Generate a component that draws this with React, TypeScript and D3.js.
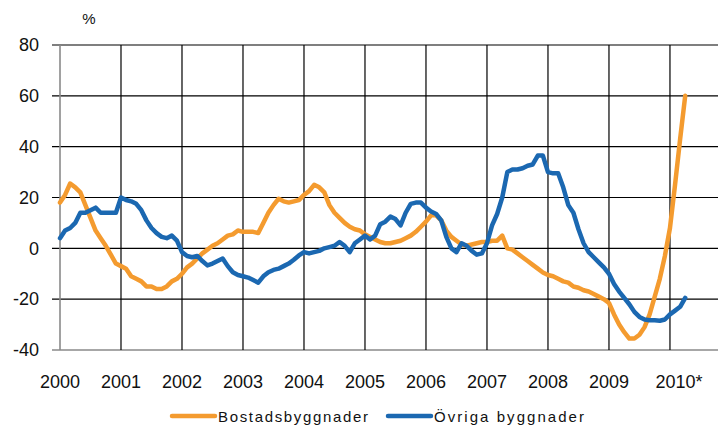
import * as d3 from 'd3';

const years = ['2000', '2001', '2002', '2003', '2004', '2005', '2006', '2007', '2008', '2009', '2010*'];
const yTicks = [-40, -20, 0, 20, 40, 60, 80];

// monthly values, Jan 2000 - Apr 2010
const bostad = [
    18, 21, 25.5, 24, 22, 17, 12, 7, 4, 1, -2.5, -6,
    -7, -8, -11, -12, -13, -15, -15, -16, -16, -15, -13, -12,
    -10, -7.5, -6, -4, -2, -0.5, 1, 2, 3.5, 5, 5.5, 7,
    6.5, 6.5, 6.5, 6, 10, 14, 17, 19.5, 18.5, 18, 18.5, 19,
    21, 22.5, 25, 24, 22, 17, 14, 12, 10, 8.5, 7.5, 7,
    5.5, 4.5, 3.5, 2.5, 2, 2, 2.5, 3, 4, 5, 6.5, 8.5,
    10.5, 13, 13, 11, 7, 4.5, 3, 1.5, 1, 1.5, 2, 2.5,
    2.5, 3, 3, 5, 0, -0.5, -2, -3.5, -5, -6.5, -8, -9.5,
    -10.5, -11, -12, -13, -13.5, -15, -15.5, -16.5, -17, -18, -19, -20,
    -21.5, -26, -30, -33, -35.5, -35.5, -34, -31, -26, -19, -12, -3,
    8, 25, 43, 60,
];

const ovriga = [
    4, 7, 8, 10, 14, 14, 15, 16, 14, 14, 14, 14,
    20, 19, 18.5, 17.5, 15, 11, 8, 6, 4.5, 4, 5, 3,
    -1.5, -3, -3.5, -3, -5, -6.7, -6, -5, -4, -7, -9.4, -10.5,
    -11, -11.5, -12.5, -13.5, -11, -9.4, -8.5, -8, -7, -6, -4.5, -2.8,
    -1.5, -2, -1.5, -1, 0, 0.5, 1, 2.5, 1, -1.5, 2, 3.5,
    5, 3.5, 5, 9.5, 10.5, 12.5, 11.5, 9, 14, 17.5, 18, 18,
    16, 14.5, 13.5, 11, 4.5, 0, -1.5, 2, 1, -1, -2.5, -2,
    2, 9, 13.5, 20, 30, 31, 31, 31.5, 32.5, 33, 36.5, 36.5,
    30, 29.5, 29.5, 24, 17, 14, 7.5, 2, -1.5, -3.5, -5.5, -7.5,
    -10, -14, -17, -19.5, -22, -25, -27, -28, -28.3, -28.3, -28.5, -28,
    -26, -24.5, -23, -19.5,
];

const series = [
    { name: 'Bostadsbyggnader', values: bostad, color: '#f49b2f' },
    { name: 'Övriga byggnader', values: ovriga, color: '#1b68b1' },
];

const W = 718;
const H = 429;
const font = 'Liberation Sans, Arial, sans-serif';

export default function App() {
    const x = d3.scaleLinear().domain([0, 130]).range([60, 720.8]);
    const y = d3.scaleLinear().domain([-40, 80]).range([350, 45]);

    const line = d3
        .line<number>()
        .x((_, i) => x(i))
        .y((d) => y(d));

    return (
        <svg
            width={W}
            height={H}
            style={{ position: 'absolute', left: 0, top: 0, background: '#fff' }}
        >
            {/* horizontal grid + y ticks */}
            {yTicks.map((t) => (
                <g key={t}>
                    <line
                        x1={52}
                        x2={W}
                        y1={y(t)}
                        y2={y(t)}
                        stroke={t === -40 ? '#8a8a8a' : '#000'}
                        strokeWidth={t === -40 ? 1.6 : 1.2}
                    />
                    <text
                        x={39}
                        y={y(t)}
                        dy="0.35em"
                        textAnchor="end"
                        fontFamily={font}
                        fontSize={18}
                        fill="#111"
                    >
                        {t}
                    </text>
                </g>
            ))}

            {/* vertical grid at year starts */}
            {years.map((yr, i) =>
                i === 0 ? null : (
                    <line
                        key={yr}
                        x1={x(i * 12)}
                        x2={x(i * 12)}
                        y1={y(80)}
                        y2={y(-40)}
                        stroke="#000"
                        strokeWidth={1.2}
                    />
                )
            )}
            <line x1={60} x2={60} y1={y(80)} y2={y(-40)} stroke="#8a8a8a" strokeWidth={1.6} />

            {years.map((yr, i) => (
                <text
                    key={'l' + yr}
                    x={x(i * 12)}
                    dx={yr.endsWith('*') ? 9 : 0}
                    y={388}
                    textAnchor="middle"
                    fontFamily={font}
                    fontSize={18}
                    fill="#111"
                >
                    {yr}
                </text>
            ))}

            <text x={89} y={24} textAnchor="middle" fontFamily={font} fontSize={15} fill="#111">
                %
            </text>

            {series.map((s) => (
                <path
                    key={s.name}
                    d={line(s.values) || ''}
                    fill="none"
                    stroke={s.color}
                    strokeWidth={4.5}
                    strokeLinejoin="round"
                    strokeLinecap="round"
                />
            ))}

            {/* legend */}
            {series.map((s, i) => {
                const lx = i === 0 ? 172 : 388;
                return (
                    <g key={'lg' + s.name}>
                        <line
                            x1={lx}
                            x2={lx + 43}
                            y1={416}
                            y2={416}
                            stroke={s.color}
                            strokeWidth={4.5}
                            strokeLinecap="round"
                        />
                        <text
                            x={lx + 46}
                            y={422}
                            fontFamily={font}
                            fontSize={15}
                            textLength={150}
                            fill="#111"
                        >
                            {s.name}
                        </text>
                    </g>
                );
            })}
        </svg>
    );
}
